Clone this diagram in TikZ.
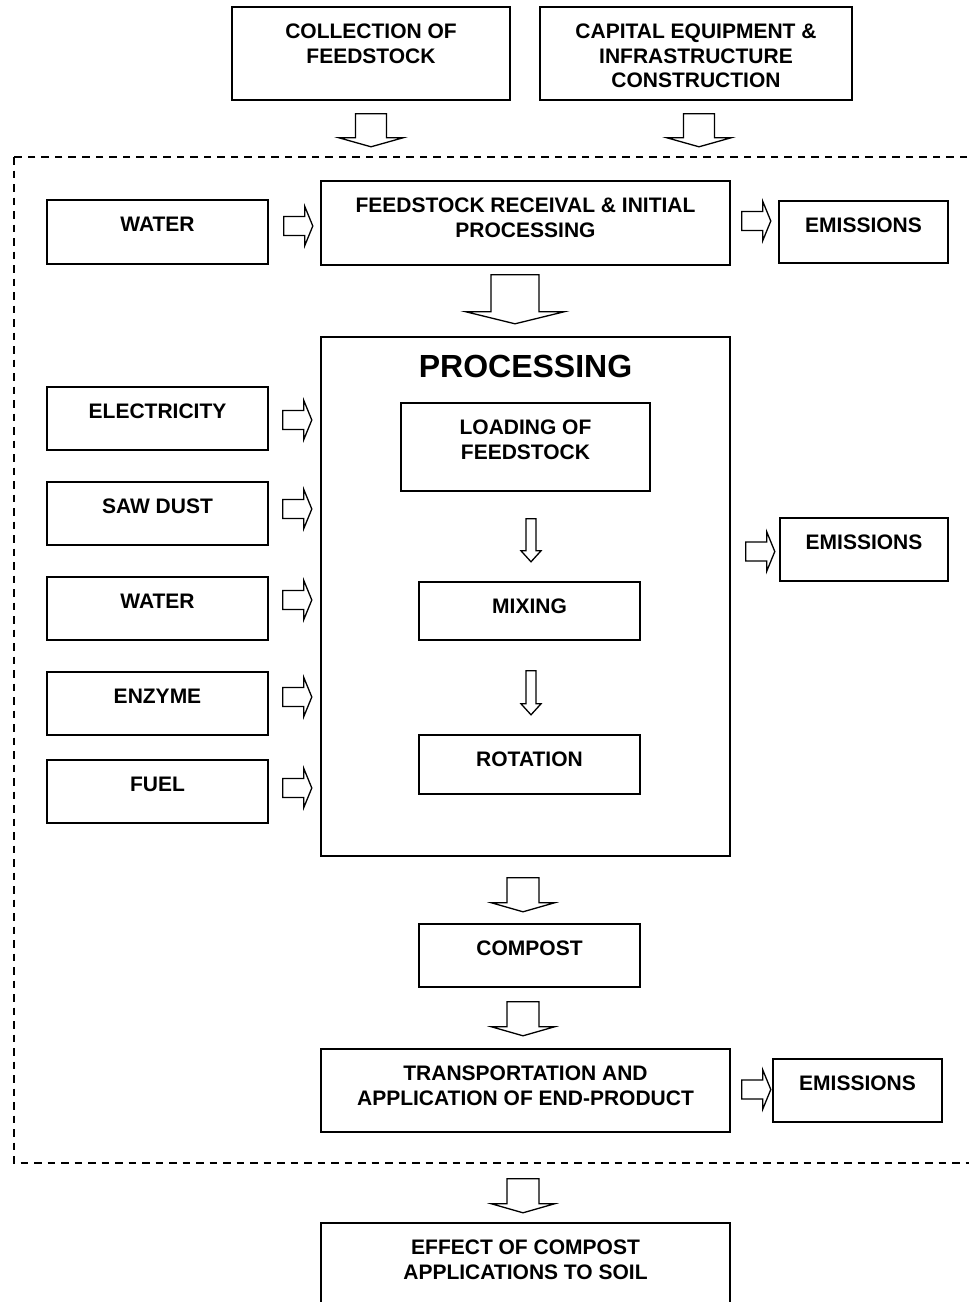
\documentclass[tikz,border=0pt]{standalone}
\usepackage{fontspec}
\setmainfont{Liberation Sans}
\usetikzlibrary{positioning}

\tikzset{
  blk/.style={draw, line width=1.6pt, inner sep=0pt},
  txt/.style={anchor=north, inner sep=0pt, yshift=-17.5pt, align=center,
    font=\fontsize{21}{24.5}\selectfont\bfseries},
  pics/rarr/.style={code={
    \draw[line width=1.3pt] (0,-9.5) -- (21,-9.5) -- (21,-19.5) -- (29,0)
      -- (21,19.5) -- (21,9.5) -- (0,9.5) -- cycle;}},
  pics/darr/.style n args={4}{code={
    \draw[line width=1.3pt] ({-#1/2},0) -- ({-#1/2},{#3-#4}) -- ({-#2/2},{#3-#4})
      -- (0,#3) -- ({#2/2},{#3-#4}) -- ({#1/2},{#3-#4}) -- ({#1/2},0) -- cycle;}},
}

\begin{document}
\begin{tikzpicture}[x=1pt,y=-1pt]
    \useasboundingbox (0,0) rectangle (969,1302);

    % system boundary
    \draw[dash pattern=on 7.5pt off 6pt, line width=1.4pt] (14,157) rectangle (1010,1163);

    % upstream
    \node[blk, minimum width=278pt, minimum height=93pt,
          label={[txt]north:COLLECTION OF\\FEEDSTOCK}] (collect) at (371,53.5) {};
    \node[blk, minimum width=312pt, minimum height=93pt,
          label={[txt]north:CAPITAL EQUIPMENT \&\\INFRASTRUCTURE\\CONSTRUCTION}] (capital) at (696,53.5) {};

    % receival
    \node[blk, minimum width=221pt, minimum height=64pt, label={[txt]north:WATER}] (water1) at (157.5,232) {};
    \node[blk, minimum width=409pt, minimum height=84pt,
          label={[txt]north:FEEDSTOCK RECEIVAL \& INITIAL\\PROCESSING}] (feed) at (525.5,223) {};
    \node[blk, minimum width=169pt, minimum height=62pt, label={[txt]north:EMISSIONS}] (emis1) at (863.5,232) {};

    % processing
    \node[blk, minimum width=409pt, minimum height=519pt,
          label={[txt, yshift=-1pt, font=\fontsize{32}{38}\selectfont\bfseries]north:PROCESSING}] (proc) at (525.5,596.5) {};
    \node[blk, minimum width=249pt, minimum height=88pt,
          label={[txt]north:LOADING OF\\FEEDSTOCK}] (load) at (525.5,447) {};
    \node[blk, minimum width=221pt, minimum height=58pt, label={[txt]north:MIXING}] (mix) at (529.5,611) {};
    \node[blk, minimum width=221pt, minimum height=59pt, label={[txt]north:ROTATION}] (rot) at (529.5,764.5) {};

    \node[blk, minimum width=221pt, minimum height=63pt, label={[txt]north:ELECTRICITY}] (elec) at (157.5,418.5) {};
    \node[blk, minimum width=221pt, minimum height=63pt, label={[txt]north:SAW DUST}] (saw) at (157.5,513.5) {};
    \node[blk, minimum width=221pt, minimum height=63pt, label={[txt]north:WATER}] (water2) at (157.5,608.5) {};
    \node[blk, minimum width=221pt, minimum height=63pt, label={[txt]north:ENZYME}] (enzyme) at (157.5,703.5) {};
    \node[blk, minimum width=221pt, minimum height=63pt, label={[txt]north:FUEL}] (fuel) at (157.5,791.5) {};
    \node[blk, minimum width=168pt, minimum height=63pt, label={[txt]north:EMISSIONS}] (emis2) at (864,549.5) {};

    % end product
    \node[blk, minimum width=221pt, minimum height=63pt, label={[txt]north:COMPOST}] (compost) at (529.5,955.5) {};
    \node[blk, minimum width=409pt, minimum height=83pt,
          label={[txt]north:TRANSPORTATION AND\\APPLICATION OF END-PRODUCT}] (trans) at (525.5,1090.5) {};
    \node[blk, minimum width=169pt, minimum height=63pt, label={[txt]north:EMISSIONS}] (emis3) at (857.5,1090.5) {};
    \node[blk, minimum width=409pt, minimum height=110pt,
          label={[txt]north:EFFECT OF COMPOST\\APPLICATIONS TO SOIL}] (effect) at (525.5,1278) {};

    % block arrows
    \pic at ([yshift=-13pt]collect.south) {darr={31}{64}{33}{9}};
    \pic at ([xshift=3pt,yshift=-13pt]capital.south) {darr={31}{64}{33}{9}};
    \pic at ([xshift=-10.5pt,yshift=-9pt]feed.south) {darr={48}{98}{49}{12}};
    \pic at ([xshift=5.5pt,yshift=-27pt]load.south) {darr={10}{20}{43}{11}};
    \pic at ([xshift=1.5pt,yshift=-30pt]mix.south) {darr={10}{20}{44}{11}};
    \pic at ([xshift=-2.5pt,yshift=-21pt]proc.south) {darr={32}{63}{34}{9}};
    \pic at ([xshift=-6.5pt,yshift=-14pt]compost.south) {darr={32}{63}{34}{9}};
    \pic at ([xshift=-2.5pt,yshift=-46pt]trans.south) {darr={32}{63}{34}{9}};

    \pic at ([xshift=15pt,yshift=6pt]water1.east) {rarr};
    \pic at ([xshift=11pt,yshift=2pt]feed.east) {rarr};
    \pic at ([xshift=14pt,yshift=-1.5pt]elec.east) {rarr};
    \pic at ([xshift=14pt,yshift=4.5pt]saw.east) {rarr};
    \pic at ([xshift=14pt,yshift=8.5pt]water2.east) {rarr};
    \pic at ([xshift=14pt,yshift=6.5pt]enzyme.east) {rarr};
    \pic at ([xshift=14pt,yshift=3.5pt]fuel.east) {rarr};
    \pic at ([xshift=15pt,yshift=45pt]proc.east) {rarr};
    \pic at ([xshift=11pt,yshift=1pt]trans.east) {rarr};
\end{tikzpicture}
\end{document}
